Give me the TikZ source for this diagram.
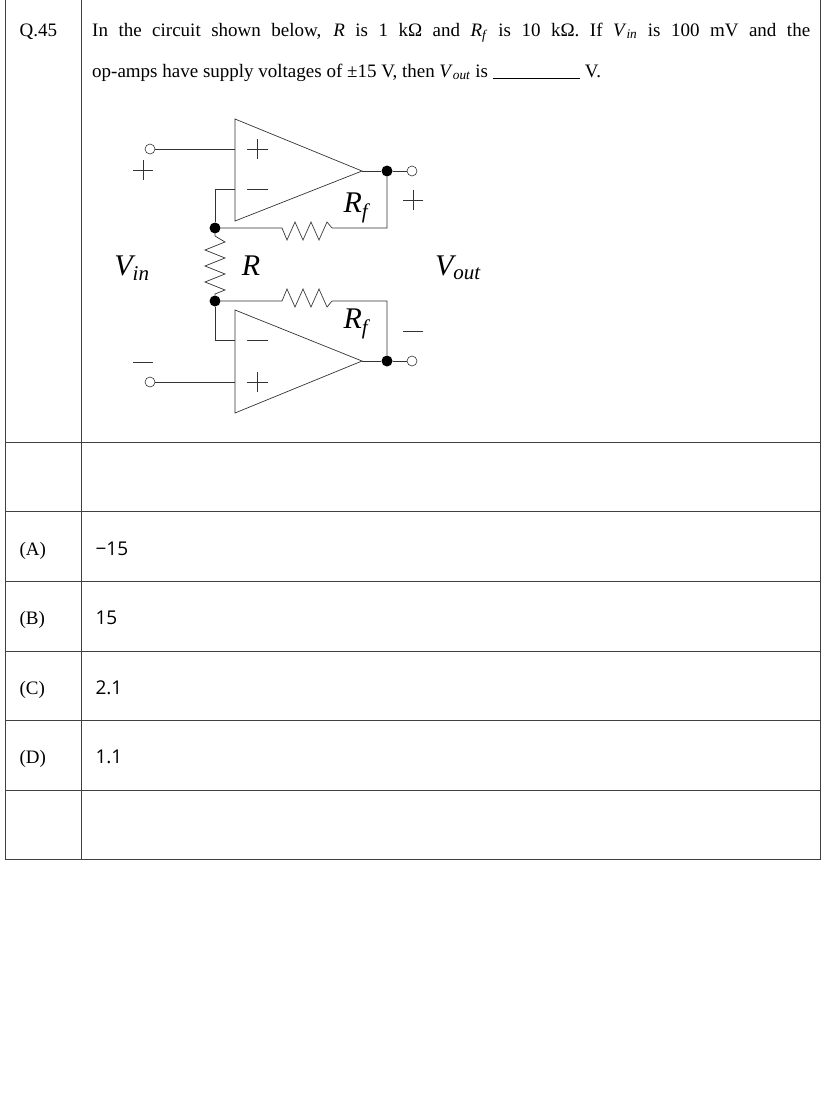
\documentclass[tikz,border=0pt]{standalone}
\usepackage{fontspec}
\setmainfont{Liberation Serif}
\newfontfamily\optfont{Open Sans}
\newcommand{\vsub}[2]{\textit{#1}\textsubscript{\textit{#2}}}
\begin{document}
\begin{tikzpicture}[x=1pt,y=-1pt,
  grid/.style={draw=black!75,line width=0.8pt},
  wire/.style={draw=black!80,line width=0.7pt},
  dotn/.style={circle,fill=black,inner sep=0pt,minimum size=11pt},
  term/.style={circle,draw=black!80,fill=white,inner sep=0pt,minimum size=10pt,line width=0.6pt},
  sgn/.style={line width=0.7pt,draw=black!80},
  opt/.style={font=\optfont\fontsize{19}{21}\selectfont,anchor=base west},
  lab/.style={font=\fontsize{19}{22}\selectfont,anchor=base west},
  big/.style={font=\fontsize{30}{32}\selectfont\itshape}]
\useasboundingbox (0,0) rectangle (835,1093);
% table
\draw[grid] (5,0) -- (5,859) -- (820,859) -- (820,0);
\draw[grid] (81,0) -- (81,859);
\foreach \y in {442,511,581,651,720,790} \draw[grid] (5,\y) -- (820,\y);
\node[lab] (q) at (16,36) {Q.45};
\node[lab,inner sep=0pt] (qt1) at (92,36)
 {\makebox[718pt][s]{In the circuit shown below, \textit{R} is 1 kΩ and \vsub{R}{f} is 10 kΩ. If \vsub{V}{in} is 100 mV and the}};
\node[lab,inner sep=0pt] (qt2) at (92,77)
 {op-amps have supply voltages of ±15 V, then \vsub{V}{out} is \underline{\hspace{4.6em}} V.};
\node[lab] (la) at (16,555) {(A)};
\node[lab] (lb) at (16,624) {(B)};
\node[lab] (lc) at (16,694) {(C)};
\node[lab] (ld) at (16,763) {(D)};
\node[opt] (oa) at (92,555) {−15};
\node[opt] (ob) at (92,624) {15};
\node[opt] (oc) at (92,694) {2.1};
\node[opt] (od) at (92,763) {1.1};
% op-amps
\draw[wire] (235,119) -- (362,171) -- (235,221) -- cycle;
\draw[wire] (235,310) -- (362,361) -- (235,413) -- cycle;
\coordinate (tip1) at (362,171);
\coordinate (tip2) at (362,361);
\node[term] (ti1) at (150,149) {};
\node[term] (ti2) at (150,382) {};
\node[dotn] (o1) at (387,171) {};
\node[dotn] (o2) at (387,361) {};
\node[term] (to1) at (412,171) {};
\node[term] (to2) at (412,361) {};
\node[dotn] (n1) at (215,228) {};
\node[dotn] (n2) at (215,301) {};
\draw[wire] (ti1) -- (235,149);
\draw[wire] (ti2) -- (235,382);
\draw[wire] (tip1) -- (o1) -- (to1);
\draw[wire] (tip2) -- (o2) -- (to2);
\draw[wire] (235,189) -- (215,189) -- (n1);
\draw[wire] (235,340) -- (215,340) -- (n2);
\draw[wire] (n1) -- (282,228) -- (287,240) -- (295,222) -- (303,240) -- (311,222) -- (319,240) -- (327,222) -- (332,228) -- (387,228) -- (o1);
\draw[wire] (n2) -- (282,301) -- (287,289) -- (295,307) -- (303,289) -- (311,307) -- (319,289) -- (327,307) -- (332,301) -- (387,301) -- (o2);
\draw[wire] (n1) -- (215,236) -- (225,242) -- (205,250) -- (225,258) -- (205,266) -- (225,274) -- (205,282) -- (225,290) -- (215,294) -- (n2);
% signs
\draw[sgn] (247,149) -- (268,149) (257.5,139) -- (257.5,159);
\draw[sgn] (247,189) -- (268,189);
\draw[sgn] (247,340) -- (268,340);
\draw[sgn] (247,382) -- (268,382) (257.5,372) -- (257.5,392);
\draw[sgn] (133,170) -- (153,170) (143,160) -- (143,180);
\draw[sgn] (133,362) -- (153,362);
\draw[sgn] (403,200) -- (423,200) (413,190) -- (413,210);
\draw[sgn] (403,331) -- (423,331);
% labels
\node[big] (lrf1) at (356,208) {R\textsubscript{f}};
\node[big] (lrf2) at (356,324) {R\textsubscript{f}};
\node[big] (lr) at (251,266) {R};
\node[big] (lvin) at (132,268) {V\textsubscript{in}};
\node[big] (lvout) at (458,268) {V\textsubscript{out}};
\end{tikzpicture}
\end{document}
